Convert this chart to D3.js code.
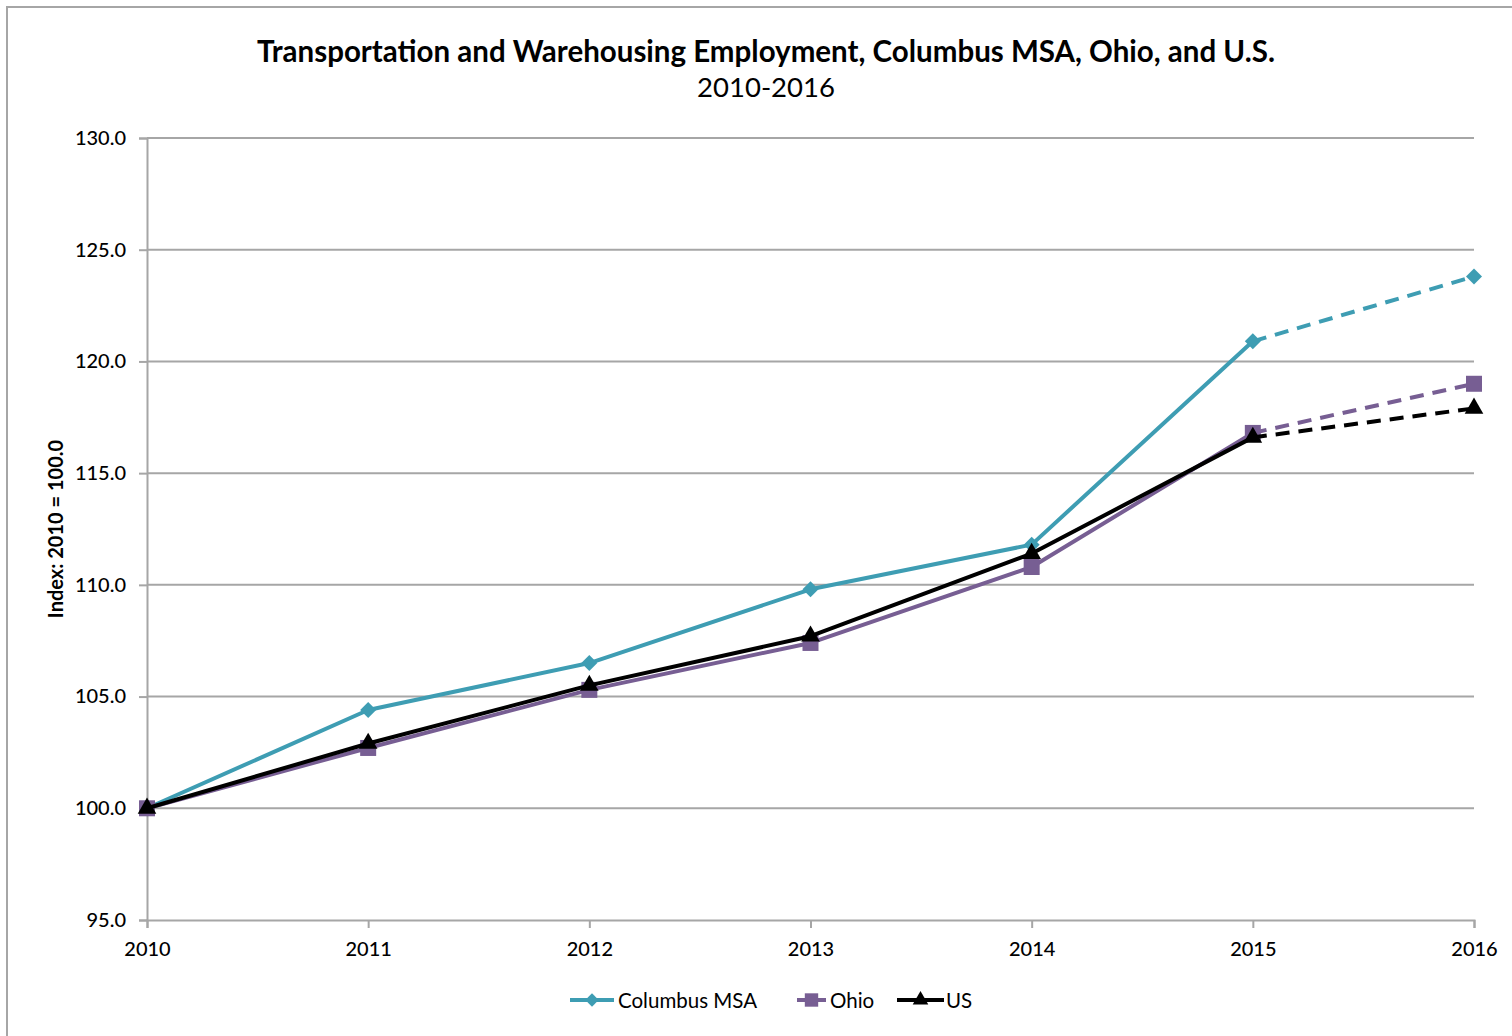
<!DOCTYPE html>
<html><head><meta charset="utf-8">
<script src="https://cdn.jsdelivr.net/npm/d3@7/dist/d3.min.js"></script>
<style>body{margin:0;background:#fff;}svg{display:block;}text{font-family:Lato,"Open Sans",sans-serif;}</style>
</head><body>
<svg id="c" width="1512" height="1036"></svg>
<script>
const years = [2010, 2011, 2012, 2013, 2014, 2015, 2016];
const columbus = [100.0, 104.4, 106.5, 109.8, 111.8, 120.9, 123.8];
const ohio = [100.0, 102.7, 105.3, 107.4, 110.8, 116.8, 119.0];
const us = [100.0, 102.9, 105.5, 107.7, 111.4, 116.6, 117.9];
const yTicks = [95, 100, 105, 110, 115, 120, 125, 130];
const seriesNames = ["Columbus MSA", "Ohio", "US"];
const colors = ["#3e9db3", "#775e93", "#000000"];
const shapes = ["diamond", "square", "triangle"];

const svg = d3.select("#c");
// outer border
svg.append("rect").attr("x", 7).attr("y", 7).attr("width", 1520).attr("height", 1040)
  .attr("fill", "none").attr("stroke", "#a6a6a6").attr("stroke-width", 2);

const x = d3.scalePoint().domain(years).range([147, 1474]);
const y = d3.scaleLinear().domain([95, 130]).range([920, 138]);

// gridlines
svg.append("g").selectAll("line").data(yTicks.filter(t => t > 95)).join("line")
  .attr("x1", 147).attr("x2", 1474).attr("y1", d => y(d)).attr("y2", d => y(d))
  .attr("stroke", "#a6a6a6").attr("stroke-width", 2);

// axes
const yAxis = svg.append("g").attr("transform", "translate(147,0)")
  .call(d3.axisLeft(y).tickValues(yTicks).tickFormat(d3.format(".1f")).tickSize(8).tickPadding(13));
const xAxis = svg.append("g").attr("transform", "translate(0,920)")
  .call(d3.axisBottom(x).tickSize(8).tickPadding(14));
[yAxis, xAxis].forEach(a => {
  a.select(".domain").attr("stroke", "#a6a6a6").attr("stroke-width", 2);
  a.selectAll(".tick line").attr("stroke", "#a6a6a6").attr("stroke-width", 2);
  a.selectAll("text").attr("font-size", 20).attr("fill", "#000")
    .attr("font-family", "Lato,'Open Sans',sans-serif").attr("font-weight", 500);
});

// titles
svg.append("text").attr("x", 766).attr("y", 62).attr("text-anchor", "middle")
  .attr("font-size", 29.5).attr("font-weight", "bold").text("Transportation and Warehousing Employment, Columbus MSA, Ohio, and U.S.");
svg.append("text").attr("x", 766).attr("y", 97).attr("text-anchor", "middle")
  .attr("font-size", 27.5).text("2010-2016");
svg.append("text").attr("transform", "translate(63,529) rotate(-90)").attr("text-anchor", "middle")
  .attr("font-size", 20).attr("font-weight", "bold").text("Index: 2010 = 100.0");

const data = [columbus, ohio, us];
const diamond = { draw(ctx, size) { const r = Math.sqrt(size) / 2; ctx.moveTo(0, -r); ctx.lineTo(r, 0); ctx.lineTo(0, r); ctx.lineTo(-r, 0); ctx.closePath(); } };
const symType = {diamond: diamond, square: d3.symbolSquare, triangle: d3.symbolTriangle};
const symSize = {diamond: 256, square: 256, triangle: 150};
const line = d3.line().x(d => x(d[0])).y(d => y(d[1]));

data.forEach((vals, i) => {
  const pts = years.map((yr, j) => [yr, vals[j]]);
  const g = svg.append("g");
  g.append("path").attr("d", line(pts.slice(0, 6))).attr("fill", "none")
    .attr("stroke", colors[i]).attr("stroke-width", 4).attr("stroke-linejoin", "round");
  g.append("path").attr("d", line(pts.slice(5))).attr("fill", "none")
    .attr("stroke", colors[i]).attr("stroke-width", 4).attr("stroke-dasharray", "14,9");
  g.selectAll("path.m").data(pts).join("path").attr("class", "m")
    .attr("transform", d => `translate(${x(d[0])},${y(d[1])})`)
    .attr("d", d3.symbol().type(symType[shapes[i]]).size(symSize[shapes[i]]))
    .attr("fill", colors[i]);
});

// legend
const legend = [{x1: 570, x2: 614, tx: 618}, {x1: 797, x2: 826, tx: 830}, {x1: 897, x2: 944, tx: 946}];
legend.forEach((l, i) => {
  const g = svg.append("g");
  g.append("line").attr("x1", l.x1).attr("x2", l.x2).attr("y1", 1000).attr("y2", 1000)
    .attr("stroke", colors[i]).attr("stroke-width", 4);
  g.append("path").attr("transform", `translate(${(l.x1 + l.x2) / 2},1000)`)
    .attr("d", d3.symbol().type(symType[shapes[i]]).size(symSize[shapes[i]] * 0.7)).attr("fill", colors[i]);
  g.append("text").attr("x", l.tx).attr("y", 1008).attr("font-size", 20.5).text(seriesNames[i]);
});
</script>
</body></html>
